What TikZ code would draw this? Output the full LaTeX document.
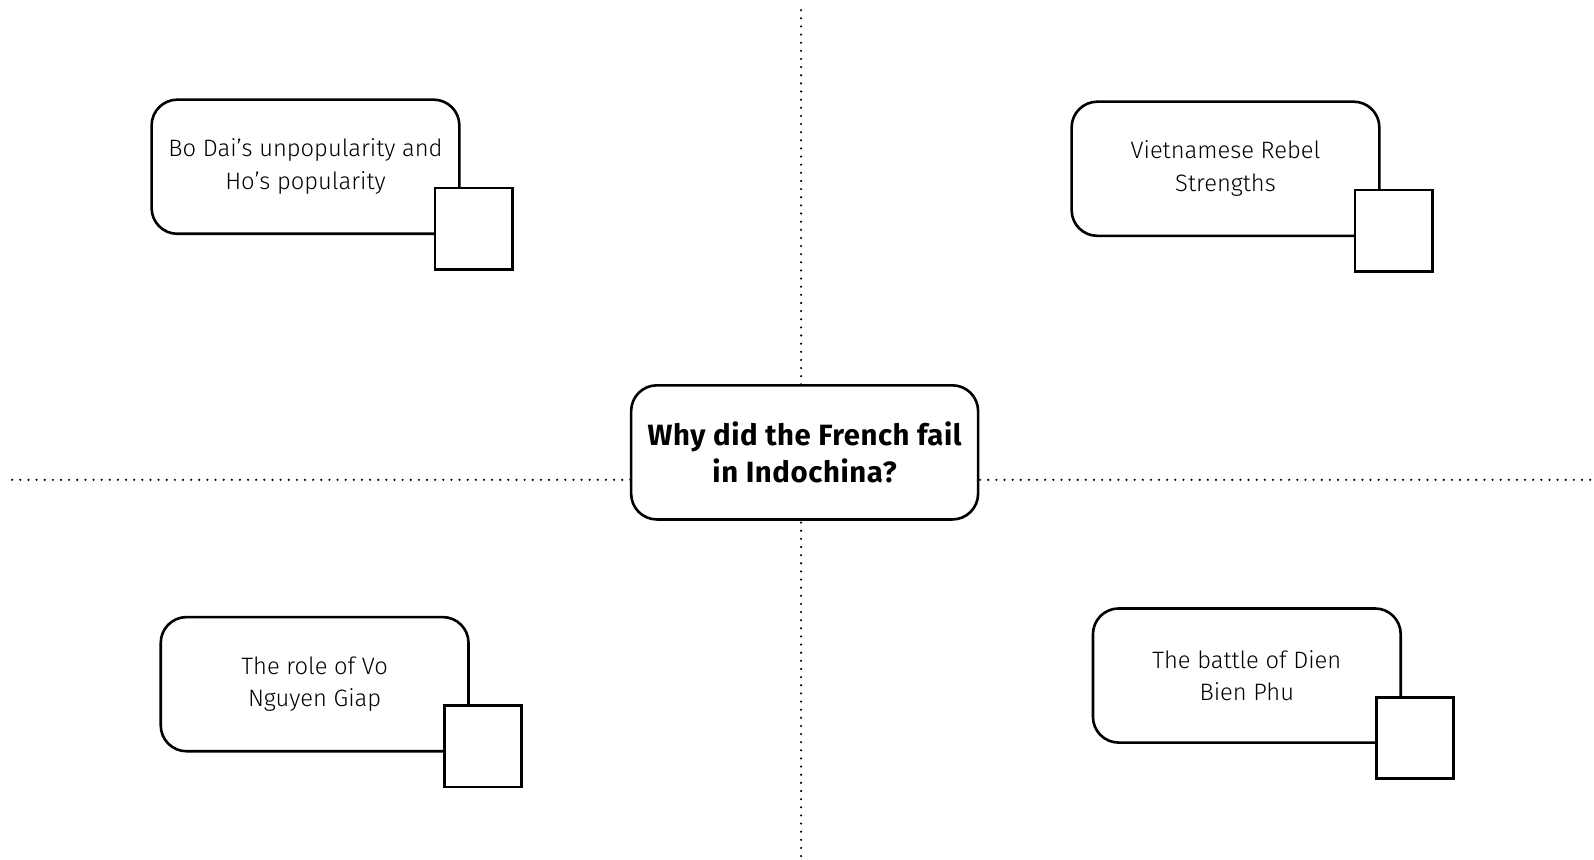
\documentclass[tikz,border=0pt]{standalone}
\usepackage{fontspec}
\IfFontExistsTF{Fira Sans Light}{\newfontfamily\bodyfont{Fira Sans Light}}{\newfontfamily\bodyfont{Fira Sans}}
\IfFontExistsTF{Fira Sans Bold}{\newfontfamily\titlefont{Fira Sans Bold}[LetterSpace=2]}{\newfontfamily\titlefont{Fira Sans}[FakeBold=2]}
\begin{document}
\begin{tikzpicture}[x=0.7624pt,y=-0.7624pt,
  guide/.style={line width=1.8pt,line cap=round,dash pattern=on 0pt off 6.1pt},
  topic/.style={draw,line width=1.95pt,fill=white,rounded corners=19.3pt,minimum width=230.8pt,minimum height=100.6pt,align=center,font=\bodyfont\fontsize{17.8}{24.4}\selectfont,inner sep=0pt},
  centre/.style={draw,line width=1.95pt,fill=white,rounded corners=19.3pt,minimum width=260.2pt,minimum height=100.6pt,align=center,font=\titlefont\fontsize{22}{28.2}\selectfont,inner sep=0pt},
  tick/.style={draw,line width=1.95pt,fill=white,minimum width=57.9pt,minimum height=61pt,inner sep=0pt}]
\useasboundingbox (0,0) rectangle (1568,845);
\coordinate (vt) at (788,10);
\coordinate (vb) at (788,843);
\coordinate (hl) at (12,472);
\coordinate (hr) at (1568,472);
\draw[guide] (vt) -- (vb);
\draw[guide] (hl) -- (hr);
\node[centre] (q) at (791.5,445) {Why did the French fail\\in Indochina?};
\node[topic] (a) at (300.5,164) {Bo Dai’s unpopularity and\\Ho’s popularity};
\node[tick] (as) at (466,225) {};
\node[topic] (b) at (1205.5,166) {Vietnamese Rebel\\Strengths};
\node[tick] (bs) at (1371,227) {};
\node[topic] (c) at (309.5,673) {The role of Vo\\Nguyen Giap};
\node[tick] (cs) at (475,734) {};
\node[topic] (d) at (1226.5,664.5) {The battle of Dien\\Bien Phu};
\node[tick] (ds) at (1392,726) {};
\end{tikzpicture}
\end{document}
